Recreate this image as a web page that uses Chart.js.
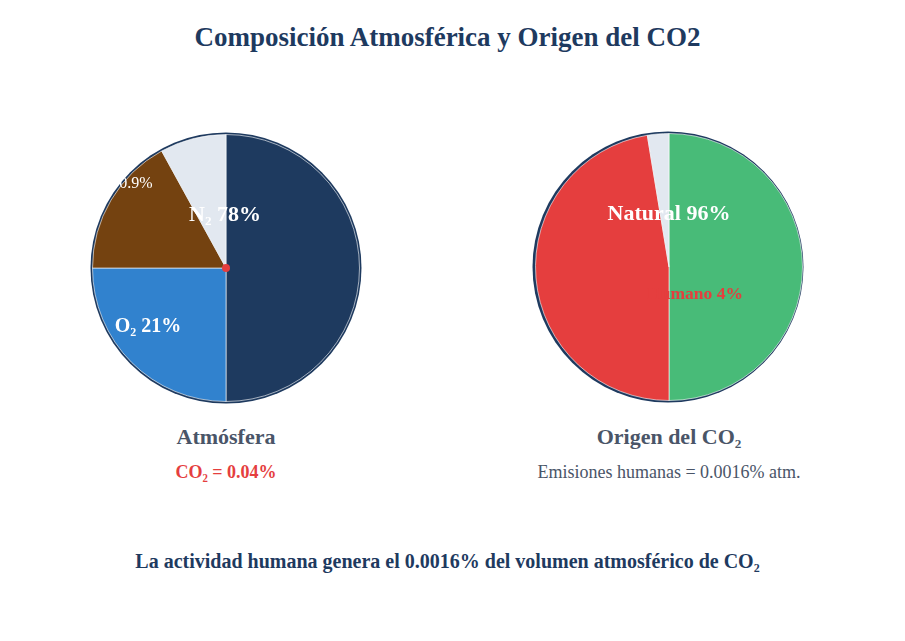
<!DOCTYPE html>
<html>
<head>
<meta charset="utf-8">
<script src="https://cdn.jsdelivr.net/npm/chart.js"></script>
<style>
    body { margin: 0; width: 905px; height: 641px; background: #fff; position: relative; overflow: hidden;
           font-family: "Liberation Serif", "Times New Roman", serif; }
    .txt { position: absolute; text-align: center; white-space: nowrap; }
    .box { position: absolute; width: 290px; height: 290px; }
</style>
</head>
<body>
<div class="txt" style="left:0;width:895px;top:20px;line-height:34px;font-size:27px;font-weight:bold;color:#1e3a5f;">Composición Atmosférica y Origen del CO2</div>

<div class="box" style="left:81px;top:123px;"><canvas id="atmChart" width="290" height="290"></canvas></div>
<div class="box" style="left:524px;top:122px;"><canvas id="origenChart" width="290" height="290"></canvas></div>

<div class="txt" style="left:76px;width:300px;top:423px;line-height:28px;font-size:22px;font-weight:bold;color:#4a5568;">Atmósfera</div>
<div class="txt" style="left:76px;width:300px;top:460px;line-height:24px;font-size:18px;font-weight:bold;color:#e53e3e;">CO₂ = 0.04%</div>
<div class="txt" style="left:519px;width:300px;top:423px;line-height:28px;font-size:22px;font-weight:bold;color:#4a5568;">Origen del CO₂</div>
<div class="txt" style="left:519px;width:300px;top:460px;line-height:24px;font-size:18px;color:#4a5568;">Emisiones humanas = 0.0016% atm.</div>

<div class="txt" style="left:0;width:895px;top:548px;line-height:26px;font-size:20px;font-weight:bold;color:#1e3a5f;">La actividad humana genera el 0.0016% del volumen atmosférico de CO₂</div>

<script>
// Atmosfera (slices as drawn)
const atmLabels = ['N₂', 'O₂', 'Ar', 'CO₂ y otros'];
const atmSlices = [50, 25, 17, 8];
const atmColors = ['#1e3a5f', '#3182ce', '#744210', '#e2e8f0'];

// Origen del CO2
const origenLabels = ['Natural', 'Humano', 'Otros'];
const origenSlices = [50, 47.4, 2.6];
const origenColors = ['#48bb78', '#e53e3e', '#e2e8f0'];

// texts drawn on top of the pies
const atmTexts = ['N₂ 78%', 'O₂ 21%', '0.9%'];
const origenTexts = ['Natural 96%', 'Humano 4%'];

const serif = '"Liberation Serif", "Times New Roman", serif';

// navy ring behind the pie + texts on top
const pieDecor = {
    id: 'pieDecor',
    beforeDatasetsDraw(chart, args, opts) {
        const arc = chart.getDatasetMeta(0).data[0];
        if (!arc) return;
        const ctx = chart.ctx;
        ctx.save();
        ctx.beginPath();
        ctx.arc(arc.x + (opts.ringDx || 0), arc.y, arc.outerRadius + 2, 0, Math.PI * 2);
        ctx.fillStyle = '#1e3a5f';
        ctx.fill();
        ctx.restore();
    },
    afterDatasetsDraw(chart, args, opts) {
        const arc = chart.getDatasetMeta(0).data[0];
        if (!arc) return;
        const ctx = chart.ctx;
        ctx.save();
        if (opts.dot) {
            ctx.beginPath();
            ctx.arc(arc.x, arc.y, 4, 0, Math.PI * 2);
            ctx.fillStyle = '#e53e3e';
            ctx.fill();
        }
        ctx.textAlign = 'center';
        ctx.textBaseline = 'middle';
        (opts.labels || []).forEach(l => {
            ctx.font = (l.bold ? 'bold ' : '') + l.size + 'px ' + serif;
            ctx.fillStyle = l.color;
            ctx.fillText(l.text, arc.x + l.dx, arc.y + l.dy);
        });
        ctx.restore();
    }
};

function makePie(id, labels, data, colors, decor) {
    return new Chart(document.getElementById(id), {
        type: 'pie',
        data: {
            labels: labels,
            datasets: [{
                data: data,
                backgroundColor: colors,
                borderColor: 'rgba(255,255,255,0.6)',
                borderWidth: 1
            }]
        },
        options: {
            responsive: false,
            animation: false,
            layout: { padding: 11 },
            plugins: {
                legend: { display: false },
                tooltip: { enabled: false },
                pieDecor: decor
            }
        },
        plugins: [pieDecor]
    });
}

makePie('atmChart', atmLabels, atmSlices, atmColors, {
    dot: true,
    labels: [
        { text: atmTexts[0], dx: -1, dy: -53, size: 22, bold: true, color: '#fff' },
        { text: atmTexts[1], dx: -78, dy: 59, size: 20, bold: true, color: '#fff' },
        { text: atmTexts[2], dx: -90, dy: -84, size: 16, bold: false, color: '#fff' }
    ]
});

makePie('origenChart', origenLabels, origenSlices, origenColors, {
    dot: false,
    ringDx: -1,
    labels: [
        { text: origenTexts[0], dx: 0, dy: -53, size: 22, bold: true, color: '#fff' },
        { text: origenTexts[1], dx: 26, dy: 27, size: 17.5, bold: true, color: '#e53e3e' }
    ]
});
</script>
</body>
</html>
